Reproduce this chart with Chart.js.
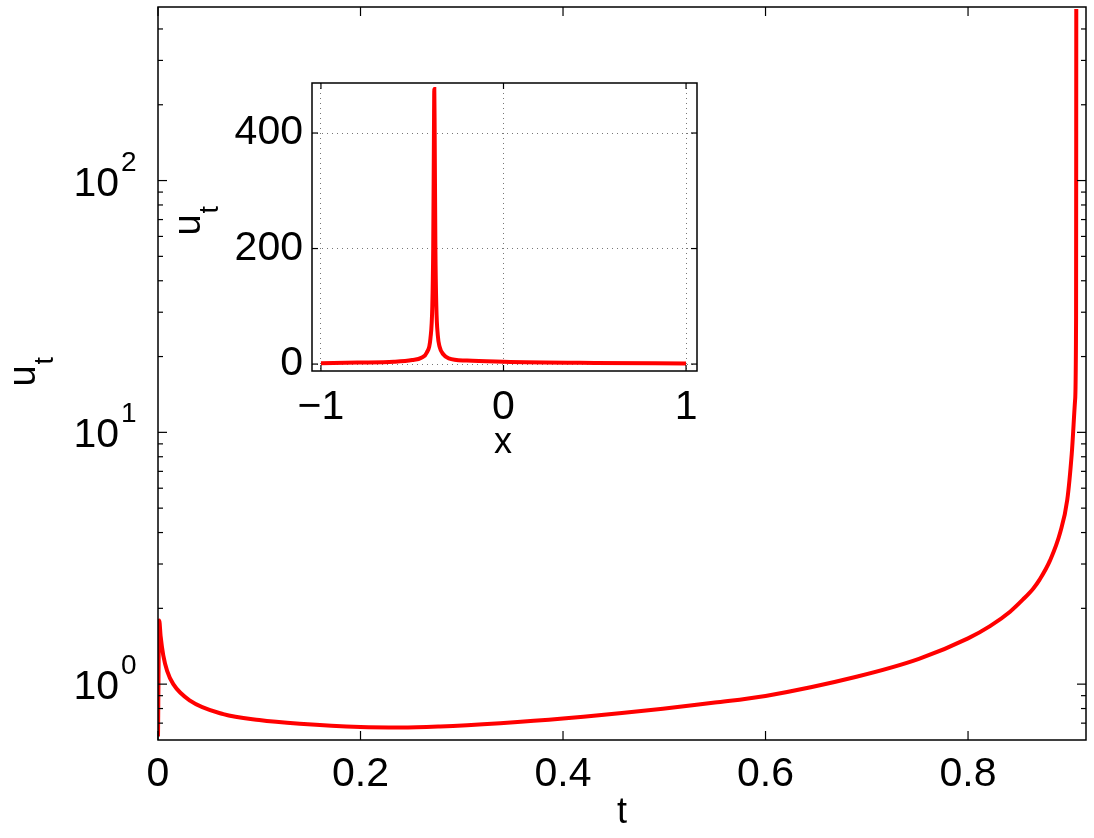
<!DOCTYPE html>
<html>
<head>
<meta charset="utf-8">
<script src="https://cdn.jsdelivr.net/npm/chart.js@4.4.0/dist/chart.umd.min.js"></script>
<style>
  html, body { margin: 0; padding: 0; background: #fff; }
  #wrap { position: relative; width: 1094px; height: 838px; }
  #main { position: absolute; left: 0; top: 0; }
  #inset { position: absolute; left: 150px; top: 60px; }
</style>
</head>
<body>
<div id="wrap">
  <canvas id="main" width="1094" height="838"></canvas>
  <canvas id="inset" width="560" height="410"></canvas>
</div>
<script>
// main plot: u_t(t) on a log axis
const tValues = [0, 0.0012, 0.0026, 0.0052, 0.009, 0.0151, 0.0316, 0.0645, 0.10, 0.14, 0.20, 0.24, 0.2787, 0.338, 0.40, 0.4843, 0.55, 0.60, 0.6898, 0.7515, 0.80, 0.8217, 0.8415, 0.8543, 0.8645, 0.8707, 0.881, 0.891, 0.898, 0.9024, 0.9057, 0.9067, 0.9069];
const uValues = [0.62, 1.79, 1.55, 1.3, 1.13, 1.0, 0.86, 0.76, 0.72, 0.696, 0.675, 0.672, 0.679, 0.70, 0.73, 0.787, 0.845, 0.898, 1.07, 1.26, 1.52, 1.70, 1.94, 2.17, 2.40, 2.60, 3.10, 4.0, 5.4, 8.2, 13.4, 28.6, 480];
const tTicks = [0, 0.2, 0.4, 0.6, 0.8];
const tTickLabels = ["0", "0.2", "0.4", "0.6", "0.8"];
const uDecades = [1, 10, 100];

// inset: u_t(x) profile
const xValues = [-1, -0.8, -0.6, -0.5, -0.45, -0.42, -0.40, -0.39, -0.385, -0.381, -0.379, -0.377, -0.373, -0.368, -0.36, -0.35, -0.33, -0.3, -0.2, 0, 0.5, 1];
const profileValues = [1.5, 2.5, 4, 7, 11, 20, 45, 100, 200, 400, 476, 400, 200, 100, 50, 30, 17, 10, 6, 4, 2, 1];
const xTicks = [-1, 0, 1];
const xTickLabels = ["\u22121", "0", "1"];
const profileTicks = [0, 200, 400];

const FONT = '"Liberation Sans", Arial, Helvetica, sans-serif';
const RED = "#ff0000";

function seg(ctx, x1, y1, x2, y2) {
    ctx.beginPath();
    ctx.moveTo(x1, y1);
    ctx.lineTo(x2, y2);
    ctx.stroke();
}

// "u" with a subscript "t", rotated for a y axis
function drawUt(ctx, baseX, centerY, size) {
    ctx.save();
    ctx.translate(baseX, centerY);
    ctx.rotate(-Math.PI / 2);
    ctx.fillStyle = "#000";
    ctx.textBaseline = "alphabetic";
    ctx.textAlign = "center";
    ctx.font = size + "px " + FONT;
    ctx.fillText("u", 0, 0);
    const w = ctx.measureText("u").width;
    ctx.textAlign = "left";
    ctx.font = Math.round(size * 0.7) + "px " + FONT;
    ctx.fillText("t", w / 2 + 1, size * 0.47);
    ctx.restore();
}

function logMinorTicks(min, max) {
    const list = [];
    for (let k = -1; k <= 2; k++) {
        for (let m = 1; m <= 9; m++) {
            const v = m * Math.pow(10, k);
            if (v >= min && v <= max) list.push(v);
        }
    }
    return list;
}

function noPadding(s) {
    s.paddingTop = 0;
    s.paddingBottom = 0;
    s.paddingLeft = 0;
    s.paddingRight = 0;
}

const mainDecor = {
    id: "mainDecor",
    afterDraw(chart) {
        const ctx = chart.ctx;
        const a = chart.chartArea;
        const xs = chart.scales.x;
        const ys = chart.scales.y;
        ctx.save();
        ctx.strokeStyle = "#000";
        ctx.lineWidth = 1.5;
        ctx.strokeRect(a.left, a.top, a.right - a.left, a.bottom - a.top);
        ctx.lineWidth = 1.2;
        tTicks.forEach(v => {
            const p = xs.getPixelForValue(v);
            seg(ctx, p, a.bottom, p, a.bottom - 9);
            seg(ctx, p, a.top, p, a.top + 9);
        });
        ys.ticks.forEach(t => {
            const p = ys.getPixelForValue(t.value);
            const len = uDecades.includes(t.value) ? 9 : 5;
            seg(ctx, a.left, p, a.left + len, p);
            seg(ctx, a.right, p, a.right - len, p);
        });
        ctx.fillStyle = "#000";
        ctx.textBaseline = "alphabetic";
        uDecades.forEach(v => {
            const p = ys.getPixelForValue(v);
            ctx.font = "41px " + FONT;
            ctx.textAlign = "right";
            ctx.fillText("10", 119, p + 15);
            ctx.font = "28px " + FONT;
            ctx.textAlign = "left";
            ctx.fillText(String(Math.round(Math.log10(v))), 121, p - 10);
        });
        ctx.font = "36px " + FONT;
        ctx.textAlign = "center";
        ctx.fillText("t", 622, 823);
        drawUt(ctx, 35, 376, 38);
        ctx.restore();
    }
};

new Chart(document.getElementById("main"), {
    type: "line",
    data: {
        datasets: [{
            data: tValues.map((t, i) => ({ x: t, y: uValues[i] })),
            borderColor: RED,
            borderWidth: 4,
            pointRadius: 0,
            cubicInterpolationMode: "monotone",
            fill: false
        }]
    },
    options: {
        responsive: false,
        animation: false,
        devicePixelRatio: 1,
        layout: { padding: { top: 7, right: 8, left: 0, bottom: 0 } },
        plugins: { legend: { display: false }, tooltip: { enabled: false } },
        scales: {
            x: {
                type: "linear",
                min: 0,
                max: 0.9165,
                grid: { display: false, drawTicks: false },
                border: { display: false },
                afterBuildTicks: s => { s.ticks = tTicks.map(v => ({ value: v })); },
                afterFit: s => { s.height = 98; noPadding(s); },
                ticks: {
                    color: "#000",
                    padding: 10,
                    font: { family: FONT, size: 41 },
                    callback: v => tTickLabels[tTicks.indexOf(v)]
                }
            },
            y: {
                type: "logarithmic",
                min: 0.636,
                max: 489,
                grid: { display: false, drawTicks: false },
                border: { display: false },
                afterBuildTicks: s => { s.ticks = logMinorTicks(0.636, 489).map(v => ({ value: v })); },
                afterFit: s => { s.width = 158; noPadding(s); },
                ticks: { display: false }
            }
        }
    },
    plugins: [mainDecor]
});

const insetDecor = {
    id: "insetDecor",
    beforeDraw(chart) {
        const a = chart.chartArea;
        chart.ctx.save();
        chart.ctx.fillStyle = "#fff";
        chart.ctx.fillRect(a.left, a.top, a.right - a.left, a.bottom - a.top);
        chart.ctx.restore();
    },
    afterDraw(chart) {
        const ctx = chart.ctx;
        const a = chart.chartArea;
        const xs = chart.scales.x;
        const ys = chart.scales.y;
        ctx.save();
        ctx.strokeStyle = "#000";
        ctx.lineWidth = 1.5;
        ctx.strokeRect(a.left, a.top, a.right - a.left, a.bottom - a.top);
        ctx.lineWidth = 1.2;
        xTicks.forEach(v => {
            const p = xs.getPixelForValue(v);
            seg(ctx, p, a.bottom, p, a.bottom - 6);
            seg(ctx, p, a.top, p, a.top + 6);
        });
        profileTicks.forEach(v => {
            const p = ys.getPixelForValue(v);
            seg(ctx, a.left, p, a.left + 6, p);
            seg(ctx, a.right, p, a.right - 6, p);
        });
        ctx.fillStyle = "#000";
        ctx.font = "36px " + FONT;
        ctx.textAlign = "center";
        ctx.textBaseline = "alphabetic";
        ctx.fillText("x", 353, 393);
        drawUt(ctx, 50, 165, 38);
        ctx.restore();
    }
};

new Chart(document.getElementById("inset"), {
    type: "line",
    data: {
        datasets: [{
            data: xValues.map((x, i) => ({ x: x, y: profileValues[i] })),
            borderColor: RED,
            borderWidth: 4,
            pointRadius: 0,
            cubicInterpolationMode: "monotone",
            fill: false
        }]
    },
    options: {
        responsive: false,
        animation: false,
        devicePixelRatio: 1,
        layout: { padding: { top: 23, right: 13, left: 0, bottom: 0 } },
        plugins: { legend: { display: false }, tooltip: { enabled: false } },
        scales: {
            x: {
                type: "linear",
                min: -1.049,
                max: 1.06,
                grid: { color: "#777", lineWidth: 1, drawTicks: false },
                border: { display: false, dash: [1, 4] },
                afterBuildTicks: s => { s.ticks = xTicks.map(v => ({ value: v })); },
                afterFit: s => { s.height = 99; noPadding(s); },
                ticks: {
                    color: "#000",
                    padding: 12,
                    font: { family: FONT, size: 41 },
                    callback: v => xTickLabels[xTicks.indexOf(v)]
                }
            },
            y: {
                type: "linear",
                min: -12,
                max: 486.6,
                grid: { color: "#777", lineWidth: 1, drawTicks: false },
                border: { display: false, dash: [1, 4] },
                afterBuildTicks: s => { s.ticks = profileTicks.map(v => ({ value: v })); },
                afterFit: s => { s.width = 162; noPadding(s); },
                ticks: {
                    color: "#000",
                    padding: 9,
                    font: { family: FONT, size: 41 }
                }
            }
        }
    },
    plugins: [insetDecor]
});
</script>
</body>
</html>
